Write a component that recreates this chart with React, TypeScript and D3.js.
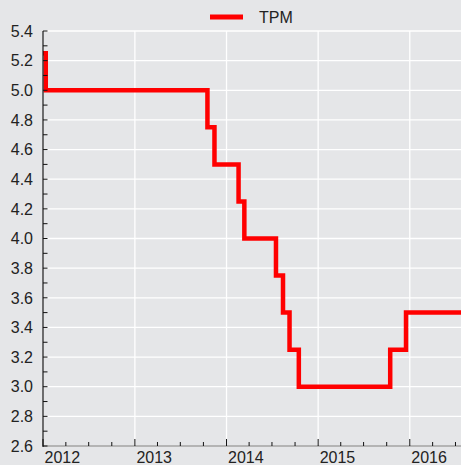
import React, { useEffect, useRef } from 'react'
import * as d3 from 'd3'

// policy rate (TPM) change dates and the level set on each
const dates = [
  '2012-01-01', '2012-01-12', '2013-10-17', '2013-11-14', '2014-02-18', '2014-03-13',
  '2014-07-17', '2014-08-14', '2014-09-09', '2014-10-16', '2015-10-15', '2015-12-17', '2016-07-23',
]
const values = [5.25, 5.0, 4.75, 4.5, 4.25, 4.0, 3.75, 3.5, 3.25, 3.0, 3.25, 3.5, 3.5]
const yTicks = [2.6, 2.8, 3.0, 3.2, 3.4, 3.6, 3.8, 4.0, 4.2, 4.4, 4.6, 4.8, 5.0, 5.2, 5.4]
const yMinor = [2.7, 2.9, 3.1, 3.3, 3.5, 3.7, 3.9, 4.1, 4.3, 4.5, 4.7, 4.9, 5.1, 5.3]
const years = ['2012', '2013', '2014', '2015', '2016']
const seriesName = 'TPM'

const W = 461
const H = 465

export default function App() {
  const ref = useRef(null)

  useEffect(() => {
    const svg = d3.select(ref.current)
    svg.selectAll('*').remove()

    const parse = d3.timeParse('%Y-%m-%d')
    const data = dates.map((d, i) => ({ date: parse(d), value: values[i] }))

    const left = 43, right = 461, top = 31, bottom = 446
    const x = d3.scaleTime()
      .domain([parse('2012-01-01'), parse('2016-07-23')])
      .range([left, right])
    const y = d3.scaleLinear().domain([2.6, 5.4]).range([bottom, top])

    svg.append('rect').attr('width', W).attr('height', H).attr('fill', '#e5e6e8')

    const yearDates = years.map((yr) => parse(yr + '-01-01'))
    const quarters = d3.timeMonth.every(3).range(parse('2012-01-01'), parse('2016-08-01'))

    // grid
    svg.append('g').selectAll('line').data(yTicks).enter().append('line')
      .attr('x1', left).attr('x2', right)
      .attr('y1', (d) => y(d)).attr('y2', (d) => y(d))
      .attr('stroke', '#ffffff').attr('stroke-width', 1.3)
    svg.append('g').selectAll('line').data(yearDates).enter().append('line')
      .attr('x1', (d) => x(d)).attr('x2', (d) => x(d))
      .attr('y1', top).attr('y2', bottom)
      .attr('stroke', '#ffffff').attr('stroke-width', 1.3)

    // series
    const line = d3.line()
      .x((d) => x(d.date))
      .y((d) => y(d.value))
      .curve(d3.curveStepAfter)
    svg.append('path')
      .datum(data)
      .attr('d', line)
      .attr('fill', 'none')
      .attr('stroke', '#ff0000')
      .attr('stroke-width', 4.5)
      .attr('stroke-linejoin', 'miter')

    // axes
    svg.append('line')
      .attr('x1', left).attr('x2', right).attr('y1', bottom).attr('y2', bottom)
      .attr('stroke', '#b4b4b4').attr('stroke-width', 2)
    svg.append('line')
      .attr('x1', left).attr('x2', left).attr('y1', top).attr('y2', bottom + 1)
      .attr('stroke', '#111111').attr('stroke-width', 1.2)

    svg.append('g').selectAll('line').data(yTicks.concat(yMinor)).enter().append('line')
      .attr('x1', left).attr('x2', left + 4.5)
      .attr('y1', (d) => y(d)).attr('y2', (d) => y(d))
      .attr('stroke', '#111111').attr('stroke-width', 1)

    svg.append('g').selectAll('line').data(quarters).enter().append('line')
      .attr('x1', (d) => x(d)).attr('x2', (d) => x(d))
      .attr('y1', bottom)
      .attr('y2', (d) => (d.getMonth() === 0 ? bottom - 7 : bottom - 4))
      .attr('stroke', '#111111').attr('stroke-width', 1)

    svg.append('g').selectAll('text').data(yTicks).enter().append('text')
      .attr('x', 33).attr('y', (d) => y(d))
      .attr('dy', '0.36em')
      .attr('text-anchor', 'end')
      .attr('font-family', 'Liberation Sans, Arial, sans-serif')
      .attr('font-size', 16)
      .attr('fill', '#222222')
      .text((d) => d.toFixed(1))

    svg.append('g').selectAll('text').data(yearDates).enter().append('text')
      .attr('x', (d) => x(d) + 1.5).attr('y', 463)
      .attr('font-family', 'Liberation Sans, Arial, sans-serif')
      .attr('font-size', 16)
      .attr('fill', '#222222')
      .text((d, i) => years[i])

    // legend
    svg.append('line')
      .attr('x1', 210).attr('x2', 243).attr('y1', 17).attr('y2', 17)
      .attr('stroke', '#ff0000').attr('stroke-width', 5)
    svg.append('text')
      .attr('x', 259).attr('y', 17).attr('dy', '0.36em')
      .attr('font-family', 'Liberation Sans, Arial, sans-serif')
      .attr('font-size', 16)
      .attr('fill', '#222222')
      .text(seriesName)
  }, [])

  return (
    <svg
      ref={ref}
      width={W}
      height={H}
      style={{ position: 'absolute', left: 0, top: 0, display: 'block' }}
    />
  )
}
